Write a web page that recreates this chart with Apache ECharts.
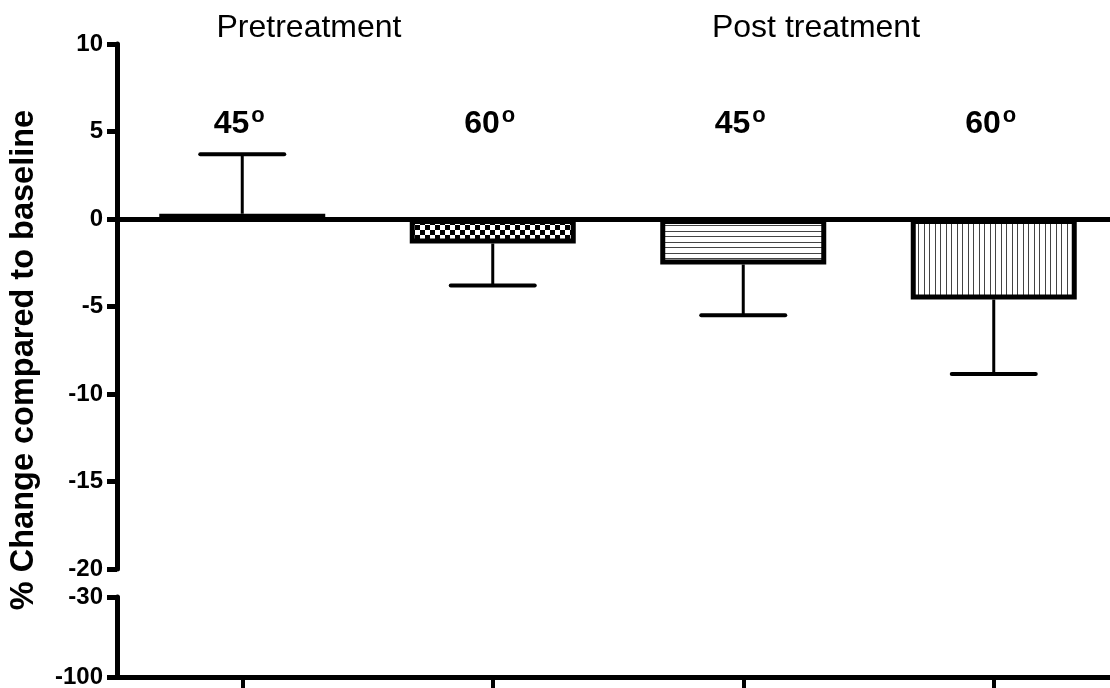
<!DOCTYPE html>
<html><head><meta charset="utf-8">
<script src="https://cdn.jsdelivr.net/npm/echarts@6/dist/echarts.min.js"></script>
<style>html,body{margin:0;padding:0;background:#fff;overflow:hidden}#c{width:1110px;height:688px}</style>
</head><body><div id="c"></div>
<script>
// ---- data ----
const categories = ['Pretreatment 45', 'Pretreatment 60', 'Post treatment 45', 'Post treatment 60'];
const angleLabels = ['45', '60', '45', '60'];
const groupLabels = ['Pretreatment', 'Post treatment'];
const meanValues = [0.3, -1.4, -2.6, -4.6];
const errorEnds = [3.7, -3.8, -5.5, -8.85];
const yTitle = '% Change compared to baseline';

// ---- style ----
const FONT = '"Liberation Sans", Arial, sans-serif';
const LABEL_Y = 5.4;
const AXIS_W = 5;

function makePattern(w, h, draw) {
  const c = document.createElement('canvas');
  c.width = w; c.height = h;
  const g = c.getContext('2d');
  g.fillStyle = '#fff'; g.fillRect(0, 0, w, h);
  draw(g);
  return c;
}
const patterns = [
  makePattern(6, 6, g => { g.fillStyle = '#000'; g.fillRect(0, 0, 2, 2); }),
  makePattern(10, 10, g => { g.fillStyle = '#000'; g.fillRect(0, 0, 5, 5); g.fillRect(5, 5, 5, 5); }),
  makePattern(4, 11, g => { g.fillStyle = '#444'; g.fillRect(0, 0, 4, 1); g.fillRect(0, 5, 4, 1); }),
  makePattern(11, 4, g => { g.fillStyle = '#444'; g.fillRect(0, 0, 1, 4); g.fillRect(5, 0, 1, 4); })
];

const chart = echarts.init(document.getElementById('c'), null, { renderer: 'canvas' });
const axisLabelStyle = { color: '#000', fontFamily: FONT, fontWeight: 'bold', fontSize: 24, margin: 14 };
const axisLineStyle = { show: true, lineStyle: { color: '#000', width: AXIS_W } };

chart.setOption({
  animation: false,
  backgroundColor: '#fff',
  grid: [
    { left: 117, top: 44, width: 1002, height: 525, outerBoundsMode: 'none', containLabel: false },
    { left: 117, top: 597, width: 1002, height: 80, outerBoundsMode: 'none', containLabel: false }
  ],
  xAxis: [
    { type: 'category', gridIndex: 0, data: categories,
      axisLine: { show: true, onZero: true, lineStyle: { color: '#000', width: AXIS_W } },
      axisTick: { show: false }, axisLabel: { show: false }, splitLine: { show: false } },
    { type: 'category', gridIndex: 1, data: categories, position: 'bottom',
      axisLine: { show: true, onZero: false, lineStyle: { color: '#000', width: AXIS_W } },
      axisTick: { show: true, alignWithLabel: true, length: 12, lineStyle: { color: '#000', width: 4 } },
      axisLabel: { show: false }, splitLine: { show: false } }
  ],
  yAxis: [
    { type: 'value', gridIndex: 0, min: -20, max: 10, interval: 5,
      axisLine: axisLineStyle,
      axisTick: { show: true, length: 10, lineStyle: { color: '#000', width: AXIS_W } },
      axisLabel: axisLabelStyle, splitLine: { show: false } },
    { type: 'value', gridIndex: 1, min: -100, max: -30, interval: 70,
      axisLine: axisLineStyle,
      axisTick: { show: true, length: 10, lineStyle: { color: '#000', width: AXIS_W } },
      axisLabel: axisLabelStyle, splitLine: { show: false } }
  ],
  graphic: [
    { type: 'text', x: 309, y: 28, style: { text: groupLabels[0], font: '32px ' + FONT, fill: '#000', textAlign: 'center', textVerticalAlign: 'middle' } },
    { type: 'text', x: 816, y: 28, style: { text: groupLabels[1], font: '32px ' + FONT, fill: '#000', textAlign: 'center', textVerticalAlign: 'middle' } },
    { type: 'text', x: 24, y: 360, rotation: Math.PI / 2, style: { text: yTitle, font: 'bold 32.5px ' + FONT, fill: '#000', textAlign: 'center', textVerticalAlign: 'middle' } }
  ],
  series: [
    { type: 'custom', xAxisIndex: 0, yAxisIndex: 0, z: 1, silent: true,
      data: meanValues.map((v, i) => [i, v, errorEnds[i]]),
      renderItem: function (params, api) {
        const p0 = api.coord([api.value(0), api.value(1)]);
        const p1 = api.coord([api.value(0), api.value(2)]);
        const hw = 42;
        const st = { stroke: '#000', lineWidth: 3 };
        return { type: 'group', children: [
          { type: 'line', shape: { x1: p0[0], y1: p0[1], x2: p1[0], y2: p1[1] }, style: st },
          { type: 'line', shape: { x1: p1[0] - hw, y1: p1[1], x2: p1[0] + hw, y2: p1[1] }, style: Object.assign({}, st, { lineWidth: 4, lineCap: 'round' }) }
        ] };
      } },
    { type: 'bar', xAxisIndex: 0, yAxisIndex: 0, z: 2, silent: true, barWidth: 166,
      data: meanValues.map((v, i) => ({ value: v, itemStyle: { color: { image: patterns[i], repeat: 'repeat' } } })),
      itemStyle: { borderColor: '#000', borderWidth: 5 } },
    { type: 'scatter', xAxisIndex: 0, yAxisIndex: 0, z: 3, silent: true, symbolSize: 1,
      itemStyle: { color: 'rgba(0,0,0,0)' },
      data: angleLabels.map((t, i) => ({ value: [i, LABEL_Y], name: t })),
      label: { show: true, position: 'inside', color: '#000', textBorderWidth: 0, opacity: 1, offset: [-3, 0],
        formatter: p => '{n|' + p.name + '}{s|o}',
        rich: {
          n: { fontFamily: FONT, fontWeight: 'bold', fontSize: 32, color: '#000', lineHeight: 36, textBorderWidth: 0 },
          s: { fontFamily: FONT, fontWeight: 'bold', fontSize: 22, color: '#000', lineHeight: 18, padding: [0, 0, 18, 2], textBorderWidth: 0 }
        } } }
  ]
});
</script></body></html>
